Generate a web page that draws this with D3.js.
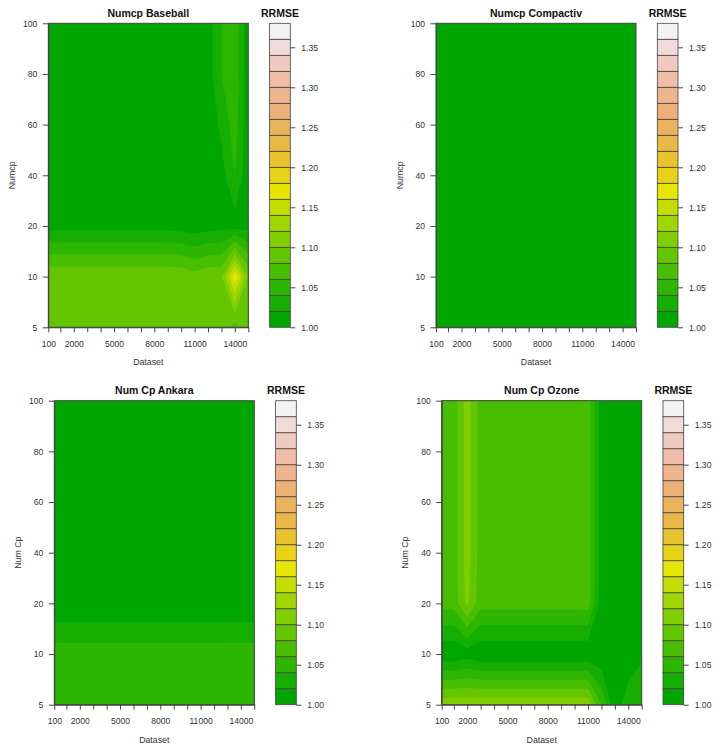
<!DOCTYPE html>
<html>
<head>
<meta charset="utf-8">
<title>Numcp RRMSE</title>
<style>
  body { margin: 0; background: #ffffff; }
  svg { display: block; font-family: "Liberation Sans", Arial, sans-serif; }
  .chart_title { font-size: 10.5px; font-weight: bold; fill: #111; }
  .axis_label { font-size: 8.8px; fill: #333; }
  .tick text { font-size: 8.6px; fill: #333; }
  .tick line, .domain { stroke: #444; }
</style>
</head>
<body>
<svg width="719" height="750"></svg>
<script src="https://d3js.org/d3.v7.min.js"></script>
<script>
// grid: columns follow datasetSizes, rows follow numCp (5 at the bottom)
const datasetSizes = [100, 1000, 2000, 3000, 4000, 5000, 6000, 7000, 8000, 9000, 10000, 11000, 12000, 13000, 14000, 15000];
const numCp = [5, 10, 20, 40, 60, 80, 100];
const xTickLabels = [100, 2000, 5000, 8000, 11000, 14000];
const levels = [1.00, 1.02, 1.04, 1.06, 1.08, 1.10, 1.12, 1.14, 1.16, 1.18, 1.20,
                1.22, 1.24, 1.26, 1.28, 1.30, 1.32, 1.34, 1.36, 1.38];
const legendTicks = [1.00, 1.05, 1.10, 1.15, 1.20, 1.25, 1.30, 1.35];

const baseball = [
  [1.095, 1.095, 1.095, 1.095, 1.095, 1.095, 1.095, 1.095, 1.095, 1.095, 1.094, 1.090, 1.094, 1.095, 1.070, 1.095],
  [1.097, 1.097, 1.097, 1.097, 1.097, 1.097, 1.097, 1.097, 1.097, 1.097, 1.095, 1.088, 1.095, 1.097, 1.175, 1.097],
  [1.013, 1.013, 1.013, 1.013, 1.013, 1.013, 1.013, 1.013, 1.013, 1.013, 1.011, 1.008, 1.011, 1.013, 1.010, 1.013],
  [1.005, 1.005, 1.005, 1.005, 1.005, 1.005, 1.005, 1.005, 1.005, 1.005, 1.005, 1.005, 1.005, 1.012, 1.040, 1.005],
  [1.005, 1.005, 1.005, 1.005, 1.005, 1.005, 1.005, 1.005, 1.005, 1.005, 1.005, 1.005, 1.005, 1.025, 1.050, 1.005],
  [1.005, 1.005, 1.005, 1.005, 1.005, 1.005, 1.005, 1.005, 1.005, 1.005, 1.005, 1.005, 1.010, 1.040, 1.055, 1.003],
  [1.005, 1.005, 1.005, 1.005, 1.005, 1.005, 1.005, 1.005, 1.005, 1.005, 1.005, 1.005, 1.010, 1.040, 1.055, 1.003]
];

const compactiv = [
  [1.005, 1.005, 1.005, 1.005, 1.005, 1.005, 1.005, 1.005, 1.005, 1.005, 1.005, 1.005, 1.005, 1.005, 1.005, 1.005],
  [1.005, 1.005, 1.005, 1.005, 1.005, 1.005, 1.005, 1.005, 1.005, 1.005, 1.005, 1.005, 1.005, 1.005, 1.005, 1.005],
  [1.005, 1.005, 1.005, 1.005, 1.005, 1.005, 1.005, 1.005, 1.005, 1.005, 1.005, 1.005, 1.005, 1.005, 1.005, 1.005],
  [1.005, 1.005, 1.005, 1.005, 1.005, 1.005, 1.005, 1.005, 1.005, 1.005, 1.005, 1.005, 1.005, 1.005, 1.005, 1.005],
  [1.005, 1.005, 1.005, 1.005, 1.005, 1.005, 1.005, 1.005, 1.005, 1.005, 1.005, 1.005, 1.005, 1.005, 1.005, 1.005],
  [1.005, 1.005, 1.005, 1.005, 1.005, 1.005, 1.005, 1.005, 1.005, 1.005, 1.005, 1.005, 1.005, 1.005, 1.005, 1.005],
  [1.005, 1.005, 1.005, 1.005, 1.005, 1.005, 1.005, 1.005, 1.005, 1.005, 1.005, 1.005, 1.005, 1.005, 1.005, 1.005]
];

const ankara = [
  [1.050, 1.050, 1.050, 1.050, 1.050, 1.050, 1.050, 1.050, 1.050, 1.050, 1.050, 1.050, 1.050, 1.050, 1.050, 1.050],
  [1.051, 1.051, 1.051, 1.051, 1.051, 1.051, 1.051, 1.051, 1.051, 1.051, 1.051, 1.051, 1.051, 1.051, 1.051, 1.051],
  [1.001, 1.001, 1.001, 1.001, 1.001, 1.001, 1.001, 1.001, 1.001, 1.001, 1.001, 1.001, 1.001, 1.001, 1.001, 1.001],
  [1.005, 1.005, 1.005, 1.005, 1.005, 1.005, 1.005, 1.005, 1.005, 1.005, 1.005, 1.005, 1.005, 1.005, 1.005, 1.005],
  [1.005, 1.005, 1.005, 1.005, 1.005, 1.005, 1.005, 1.005, 1.005, 1.005, 1.005, 1.005, 1.005, 1.005, 1.005, 1.005],
  [1.005, 1.005, 1.005, 1.005, 1.005, 1.005, 1.005, 1.005, 1.005, 1.005, 1.005, 1.005, 1.005, 1.005, 1.005, 1.005],
  [1.005, 1.005, 1.005, 1.005, 1.005, 1.005, 1.005, 1.005, 1.005, 1.005, 1.005, 1.005, 1.005, 1.005, 1.005, 1.005]
];

const ozone = [
  [1.115, 1.115, 1.115, 1.115, 1.115, 1.115, 1.115, 1.115, 1.115, 1.115, 1.115, 1.115, 1.060, 1.005, 1.035, 1.030],
  [1.003, 1.003, 1.010, 1.003, 1.003, 1.003, 1.003, 1.003, 1.003, 1.003, 1.003, 1.003, 1.003, 1.003, 1.003, 1.018],
  [1.068, 1.068, 1.105, 1.068, 1.068, 1.068, 1.068, 1.068, 1.068, 1.068, 1.068, 1.068, 1.010, 1.010, 1.010, 1.010],
  [1.070, 1.070, 1.110, 1.070, 1.070, 1.070, 1.070, 1.070, 1.070, 1.070, 1.070, 1.070, 1.010, 1.010, 1.010, 1.010],
  [1.070, 1.070, 1.110, 1.070, 1.070, 1.070, 1.070, 1.070, 1.070, 1.070, 1.070, 1.070, 1.010, 1.010, 1.010, 1.010],
  [1.070, 1.070, 1.110, 1.070, 1.070, 1.070, 1.070, 1.070, 1.070, 1.070, 1.070, 1.070, 1.010, 1.010, 1.010, 1.010],
  [1.070, 1.070, 1.110, 1.070, 1.070, 1.070, 1.070, 1.070, 1.070, 1.070, 1.070, 1.070, 1.010, 1.010, 1.010, 1.010]
];

const panels = [
  { title: 'Numcp Baseball',  ylab: 'Numcp',  values: baseball,  left: 48.3,  top: 23.3 },
  { title: 'Numcp Compactiv', ylab: 'Numcp',  values: compactiv, left: 436,   top: 23.3 },
  { title: 'Num Cp Ankara',   ylab: 'Num Cp', values: ankara,    left: 54.3,  top: 400.7 },
  { title: 'Num Cp Ozone',    ylab: 'Num Cp', values: ozone,     left: 441.7, top: 400.7 }
];

// R terrain.colors()
function hsv(h, s, v) {
  const i = Math.floor(h * 6), f = h * 6 - i;
  const p = v * (1 - s), q = v * (1 - s * f), t = v * (1 - s * (1 - f));
  const c = [[v, t, p], [q, v, p], [p, v, t], [p, q, v], [t, p, v], [v, p, q]][((i % 6) + 6) % 6];
  return d3.rgb(Math.round(c[0] * 255), Math.round(c[1] * 255), Math.round(c[2] * 255)).formatHex();
}
function terrainColors(n) {
  const k = Math.floor(n / 2), out = [];
  for (let i = 0; i < k; i++) {
    const t = i / (k - 1);
    out.push(hsv(4 / 12 - t * 2 / 12, 1, 0.65 + t * 0.25));
  }
  for (let j = 1; j <= n - k; j++) {
    const t = j / (n - k);
    out.push(hsv(2 / 12 - t * 2 / 12, 1 - t, 0.9 + t * 0.05));
  }
  return out;
}
const colors = terrainColors(levels.length - 1);

const svg = d3.select('svg');
const plotW = 200, plotH = 304, cbGap = 21.3, cbW = 20.7;

// contour grid coordinates -> data values (grid point i sits at i + 0.5)
const gx = d3.scaleLinear().domain(datasetSizes.map((d, i) => i + 0.5)).range(datasetSizes).clamp(true);
const gy = d3.scaleLinear().domain(numCp.map((d, j) => j + 0.5)).range(numCp.map((d, j) => j)).clamp(true);

const contours = d3.contours()
  .size([datasetSizes.length, numCp.length])
  .thresholds(levels.slice(0, -1));

panels.forEach(p => {
  const g = svg.append('g');
  const xScale = d3.scaleLinear().domain([100, 15000]).range([p.left, p.left + plotW]);
  const yScale = d3.scaleLinear().domain([0, numCp.length - 1]).range([p.top + plotH, p.top]);

  const path = d3.geoPath(d3.geoTransform({
    point: function (x, y) { this.stream.point(xScale(gx(x)), yScale(gy(y))); }
  }));

  g.append('g')
    .selectAll('path')
    .data(contours(p.values.flat()))
    .join('path')
    .attr('d', path)
    .attr('fill', (d, i) => colors[i]);

  // X axis
  g.append('g')
    .attr('transform', `translate(0, ${p.top + plotH})`)
    .call(d3.axisBottom(xScale)
      .tickValues(datasetSizes)
      .tickFormat(d => xTickLabels.includes(d) ? d : '')
      .tickSize(5).tickSizeOuter(0).tickPadding(8.3));

  // Y axis
  g.append('g')
    .attr('transform', `translate(${p.left}, 0)`)
    .call(d3.axisLeft(yScale)
      .tickValues(d3.range(numCp.length))
      .tickFormat(i => numCp[i])
      .tickSize(5.5).tickSizeOuter(0).tickPadding(5.5));

  g.selectAll('.tick text').attr('fill', null);

  g.append('rect')
    .attr('x', p.left).attr('y', p.top)
    .attr('width', plotW).attr('height', plotH)
    .attr('fill', 'none').attr('stroke', '#444').attr('stroke-width', 1);

  // labels
  g.append('text')
    .attr('class', 'chart_title')
    .attr('x', p.left + plotW / 2).attr('y', p.top - 6.5)
    .attr('text-anchor', 'middle')
    .text(p.title);

  g.append('text')
    .attr('class', 'axis_label')
    .attr('x', p.left + plotW / 2).attr('y', p.top + plotH + 38)
    .attr('text-anchor', 'middle')
    .text('Dataset');

  g.append('text')
    .attr('class', 'axis_label')
    .attr('transform', `translate(${p.left - 33.5}, ${p.top + plotH / 2}) rotate(-90)`)
    .attr('text-anchor', 'middle')
    .text(p.ylab);

  // colour key
  const cbLeft = p.left + plotW + cbGap;
  const cbScale = d3.scaleLinear()
    .domain([levels[0], levels[levels.length - 1]])
    .range([p.top + plotH, p.top]);

  g.append('g')
    .selectAll('rect')
    .data(colors)
    .join('rect')
    .attr('x', cbLeft)
    .attr('y', (c, i) => cbScale(levels[i + 1]))
    .attr('width', cbW)
    .attr('height', (c, i) => cbScale(levels[i]) - cbScale(levels[i + 1]))
    .attr('fill', c => c)
    .attr('stroke', '#444')
    .attr('stroke-width', 0.8);

  const key = g.append('g')
    .attr('transform', `translate(${cbLeft + cbW}, 0)`)
    .call(d3.axisRight(cbScale)
      .tickValues(legendTicks)
      .tickFormat(d3.format('.2f'))
      .tickSize(5).tickPadding(6));
  key.select('.domain').remove();
  key.selectAll('.tick text').attr('fill', null);

  g.append('text')
    .attr('class', 'chart_title')
    .attr('x', cbLeft + cbW / 2).attr('y', p.top - 6.5)
    .attr('text-anchor', 'middle')
    .text('RRMSE');
});
</script>
</body>
</html>
